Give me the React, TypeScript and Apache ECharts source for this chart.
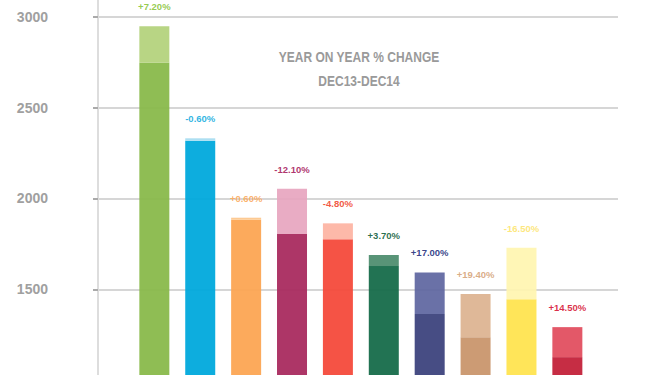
import React, { useEffect, useRef } from "react";
import * as echarts from "echarts";

const categories = ["Cat 1", "Cat 2", "Cat 3", "Cat 4", "Cat 5", "Cat 6", "Cat 7", "Cat 8", "Cat 9", "Cat 10"];
const dec13 = [2747, 2331, 1883, 2054, 1863, 1628, 1364, 1236, 1729, 1127];
const dec14 = [2947, 2318, 1894, 1804, 1775, 1689, 1593, 1474, 1445, 1292];
const changeLabels = ["+7.20%", "-0.60%", "+0.60%", "-12.10%", "-4.80%", "+3.70%", "+17.00%", "+19.40%", "-16.50%", "+14.50%"];
const darkColors = ["#89b94b", "#00a9dc", "#fca553", "#a92b5f", "#f44a3b", "#166b4a", "#3d437d", "#c9966d", "#ffe450", "#c3223a"];
const lightColors = ["#b2d17a", "#a6dcf1", "#fdc68a", "#e7a5bf", "#fdb3a2", "#4a8b6b", "#5d659f", "#dcb28f", "#fff5b0", "#e14a5b"];
const labelColors = ["#8dc63f", "#1aaee0", "#fbab5e", "#a8245f", "#f04a33", "#16633f", "#283380", "#d6a57c", "#fde571", "#d71a3a"];
const yTicks = [1000, 1500, 2000, 2500, 3000];
const titleLines = ["YEAR ON YEAR % CHANGE", "DEC13-DEC14"];

const FONT = "'Liberation Sans', Arial, sans-serif";

export default function App() {
  const ref = useRef<HTMLDivElement>(null);

  useEffect(() => {
    document.body.style.margin = "0";
    if (!ref.current) return;
    const chart = echarts.init(ref.current, undefined, { renderer: "svg" });

    const yMin = yTicks[0];
    const yMax = 3150;
    const gridTop = -10.56;
    const gridBottom = -5.2;

    const lower = dec13.map((v, i) => Math.min(v, dec14[i]));
    const diff = dec13.map((v, i) => Math.abs(dec14[i] - v));

    const titleStyle = (text: string) => ({
      text,
      fontFamily: FONT,
      fontSize: 15,
      fontWeight: "bold",
      fill: "#9a9a9a",
      align: "center",
      verticalAlign: "middle",
      textAlign: "center",
      textVerticalAlign: "middle",
    });

    chart.setOption({
      animation: false,
      graphic: [
        { type: "text", x: 359, y: 57, scaleX: 0.8, style: titleStyle(titleLines[0]) },
        { type: "text", x: 359, y: 81.5, scaleX: 0.8, style: titleStyle(titleLines[1]) },
      ],
      grid: [
        { left: 98, right: 42, top: gridTop, bottom: gridBottom, containLabel: false, outerBoundsMode: "none" },
        { left: 131.4, right: 69.7, top: gridTop, bottom: gridBottom, containLabel: false, outerBoundsMode: "none" },
      ],
      xAxis: [
        { type: "category", gridIndex: 0, data: categories, show: false },
        { type: "category", gridIndex: 1, data: categories, show: false },
      ],
      yAxis: [
        {
          type: "value",
          gridIndex: 0,
          min: yMin,
          max: yMax,
          interval: 500,
          axisLine: { show: true, lineStyle: { color: "#dddddd", width: 2 } },
          axisTick: { show: true, length: 5, lineStyle: { color: "#aaaaaa", width: 2 } },
          splitLine: { show: true, lineStyle: { color: "#d6d6d6", width: 2 } },
          axisLabel: {
            showMaxLabel: false,
            showMinLabel: false,
            margin: 50,
            fontFamily: FONT,
            fontSize: 14,
            fontWeight: "bold",
            color: "#a0a0a0",
            verticalAlign: "middle",
            padding: [12, 0, 0, 0],
            formatter: (v: number) => String(v),
          },
        },
        {
          type: "value",
          gridIndex: 1,
          min: yMin,
          max: yMax,
          interval: 500,
          show: false,
          splitLine: { show: false },
        },
      ],
      series: [
        {
          type: "bar",
          name: "lower",
          xAxisIndex: 1,
          yAxisIndex: 1,
          stack: "s",
          barWidth: 30,
          data: lower.map((v, i) => ({ value: v, itemStyle: { color: darkColors[i], opacity: 0.95 } })),
        },
        {
          type: "bar",
          name: "upper",
          xAxisIndex: 1,
          yAxisIndex: 1,
          stack: "s",
          barWidth: 30,
          data: diff.map((v, i) => ({
            value: v,
            itemStyle: { color: lightColors[i], opacity: 0.92 },
            label: { color: labelColors[i] },
          })),
          label: {
            show: true,
            position: "top",
            distance: 14.5,
            fontFamily: FONT,
            fontSize: 9.5,
            fontWeight: "bold",
            formatter: (p: any) => changeLabels[p.dataIndex],
          },
        },
      ],
    });

    return () => chart.dispose();
  }, []);

  return <div ref={ref} style={{ width: 660, height: 375 }} />;
}
